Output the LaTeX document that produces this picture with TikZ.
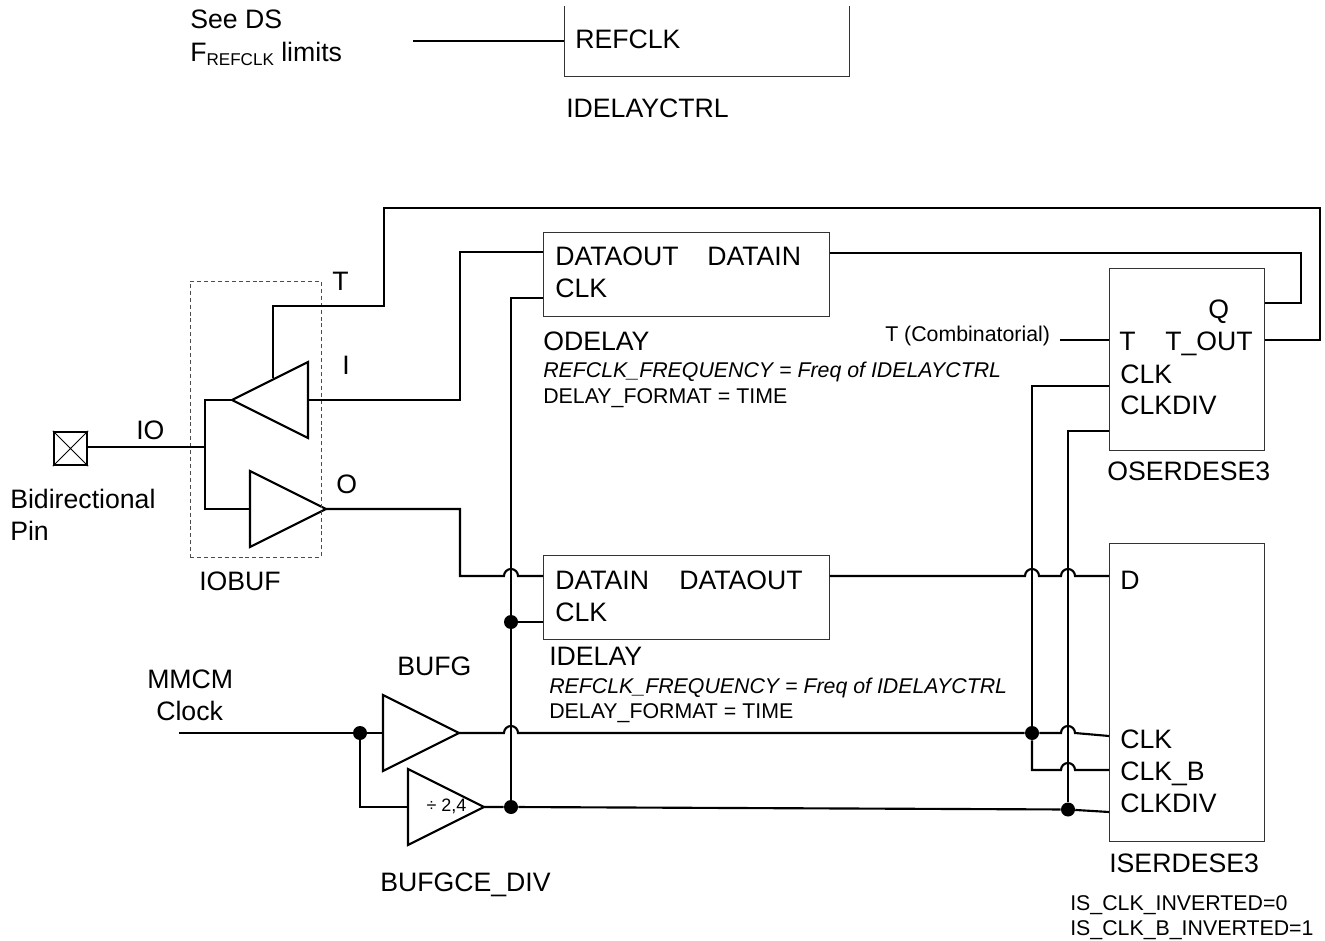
\documentclass[tikz,border=0pt]{standalone}
\usepackage{fontspec}
\setmainfont{Liberation Sans}
\usetikzlibrary{calc,shapes.geometric}

\newcommand{\hop}[1]{-- ($(#1)+(-7,0)$) arc[start angle=180,end angle=0,radius=5.25pt]}

\begin{document}
\begin{tikzpicture}[x=0.75pt,y=-0.75pt,
		wire/.style={line width=1.6pt},
		thinbox/.style={draw=black!80,line width=0.7pt,rectangle,inner sep=0pt},
		tribuf/.style={draw,isosceles triangle,isosceles triangle stretches,inner sep=0pt,outer sep=0pt,
			minimum width=57pt,minimum height=57pt,line width=1.6pt},
		lbl/.style={anchor=base west,inner sep=0pt,font=\fontsize{20}{22}\selectfont},
		sml/.style={anchor=base west,inner sep=0pt,font=\fontsize{16}{18}\selectfont},
		dot/.style={circle,fill=black,inner sep=0pt,minimum size=10.5pt}]
	\useasboundingbox (0,0) rectangle (1325,941);

	% blocks
	\node[thinbox,minimum width=214.5pt,minimum height=63pt] (odelay) at (686.5,274) {};
	\node[thinbox,minimum width=214.5pt,minimum height=63pt] (idelay) at (686.5,597) {};
	\node[thinbox,minimum width=116.5pt,minimum height=136.5pt] (oserdes) at (1187,359) {};
	\node[thinbox,minimum width=116.5pt,minimum height=224pt] (iserdes) at (1187,692.5) {};
	\coordinate (ctrltl) at (564,6);
	\coordinate (ctrlbl) at (564,76);
	\coordinate (ctrlbr) at (849,76);
	\coordinate (ctrltr) at (849,6);
	\draw[draw=black!80,line width=0.7pt] (ctrltl) -- (ctrlbl) -- (ctrlbr) -- (ctrltr);

	% buffers
	\node[tribuf,shape border rotate=180,anchor=apex] (tribufi) at (232,400) {};
	\node[tribuf,anchor=apex] (tribufo) at (326,509) {};
	\node[tribuf,anchor=apex] (bufg) at (459,733) {};
	\node[tribuf,anchor=apex] (bufdiv) at (484,807) {};
	\node[inner sep=0pt,font=\fontsize{13.5}{15}\selectfont] (bufdivtxt) at (446.5,806) {÷ 2,4};
	\node[draw,rectangle,inner sep=0pt,minimum size=25pt,line width=1.6pt] (pin) at (70.5,448.5) {};
	\draw[line width=0.6pt] (pin.north west) -- (pin.south east) (pin.north east) -- (pin.south west);
	\node[draw=black!70,dashed,dash pattern=on 3pt off 2.2pt,line width=0.7pt,rectangle,inner sep=0pt,
		minimum width=98.25pt,minimum height=207pt] (iobuf) at (255.5,419) {};

	% named points
	\coordinate (refin) at (413,41);
	\coordinate (refend) at (564,41);
	\coordinate (iojoin) at (205,447);
	\coordinate (ttap) at (273,378);
	\coordinate (tcorner) at (273,306);
	\coordinate (tstep) at (384,306);
	\coordinate (tup) at (384,208);
	\coordinate (tright) at (1320,208);
	\coordinate (tdown) at (1320,340);
	\coordinate (toutp) at (oserdes.east |- tdown);
	\coordinate (ibend) at (460,400);
	\coordinate (ibendup) at (460,252);
	\coordinate (odelayout) at (odelay.west |- ibendup);
	\coordinate (obend) at (460,509);
	\coordinate (obenddn) at (460,576);
	\coordinate (idelayin) at (idelay.west |- obenddn);
	\coordinate (odelayclk) at (511,298);
	\coordinate (odelayclkp) at (odelay.west |- odelayclk);
	\coordinate (qright) at (1301,253);
	\coordinate (qdown) at (1301,303);
	\coordinate (qp) at (oserdes.east |- qdown);
	\coordinate (datainp) at (odelay.east |- qright);
	\coordinate (combin) at (1060,340);
	\coordinate (combp) at (oserdes.west |- combin);
	\coordinate (osclk) at (1032,386);
	\coordinate (osclkp) at (oserdes.west |- osclk);
	\coordinate (osdiv) at (1068,431);
	\coordinate (osdivp) at (oserdes.west |- osdiv);
	\coordinate (idatap) at (idelay.east |- obenddn);
	\coordinate (isdp) at (iserdes.west |- obenddn);
	\coordinate (clkin) at (179,733);
	\coordinate (isclkp) at (1109,736);
	\coordinate (isclkbp) at (1109,770);
	\coordinate (isdivp) at (1109,812);
	\coordinate (clkbbend) at (1032,770);

	% junctions
	\node[dot] (jclk) at (360,733) {};
	\node[dot] (jidelay) at (511,622) {};
	\node[dot] (jdiv) at (511,807) {};
	\node[dot] (jisclk) at (1032,733) {};
	\node[dot] (jisdiv) at (1068,809.5) {};
	\coordinate (idelayclkp) at (idelay.west |- jidelay);

	% wires
	\draw[wire] (refin) -- (refend);
	\draw[wire] (pin.east |- iojoin) -- (iojoin);
	\draw[wire] (tribufi.apex) -| (iojoin) |- (tribufo.lower side);
	\draw[wire] (ttap) -- (tcorner) -- (tstep) -- (tup) -- (tright) -- (tdown) -- (toutp);
	\draw[wire] (tribufi.lower side) -- (ibend) -- (ibendup) -- (odelayout);
	\draw[wire] (tribufo.apex) -- (obend) -- (obenddn) \hop{jidelay |- obenddn} -- (idelayin);
	\draw[wire] (odelayclkp) -- (odelayclk) -- (jidelay);
	\draw[wire] (jidelay) -- (idelayclkp);
	\draw[wire] (jidelay) -- (jdiv);
	\draw[wire] (datainp) -- (qright) -- (qdown) -- (qp);
	\draw[line width=1pt] (combin) -- (combp);
	\draw[wire] (osclkp) -- (osclk) -- (jisclk);
	\draw[wire] (osdivp) -- (osdiv) -- (jisdiv);
	\draw[wire] (idatap) \hop{osclk |- obenddn} \hop{osdiv |- obenddn} -- (isdp);
	\draw[wire] (clkin) -- (bufg.lower side);
	\draw[wire] (jclk) |- (bufdiv.lower side);
	\draw[wire] (bufg.apex) \hop{jidelay |- bufg.apex} -- (jisclk);
	\draw[wire] (jisclk) \hop{osdiv |- jisclk} -- (isclkp);
	\draw[wire] (jisclk) -- (clkbbend) \hop{osdiv |- clkbbend} -- (isclkbp);
	\draw[wire] (bufdiv.apex) -- (jdiv) -- (jisdiv) -- (isdivp);

	% labels
	\node[lbl] (seeds) at (190,29) {See DS};
	\node[lbl] (limits) at (190,62) {F\raisebox{-3pt}{\fontsize{12.8}{14}\selectfont REFCLK} limits};
	\node[lbl] (refclk) at (575,49) {REFCLK};
	\node[lbl] (ctrlname) at (566,118) {IDELAYCTRL};
	\node[lbl] (odout) at (555,266) {DATAOUT};
	\node[lbl] (odin) at (707,266) {DATAIN};
	\node[lbl] (odclk) at (555,298) {CLK};
	\node[lbl] (odname) at (543,351) {ODELAY};
	\node[sml,font=\fontsize{16}{18}\selectfont\itshape] (odfreq) at (543,378) {REFCLK\_FREQUENCY = Freq of IDELAYCTRL};
	\node[sml] (odfmt) at (543,403) {DELAY\_FORMAT = TIME};
	\node[lbl] (idin) at (555,589) {DATAIN};
	\node[lbl] (idout) at (679,589) {DATAOUT};
	\node[lbl] (idclk) at (555,621) {CLK};
	\node[lbl] (idname) at (549,665) {IDELAY};
	\node[sml,font=\fontsize{16}{18}\selectfont\itshape] (idfreq) at (549,693) {REFCLK\_FREQUENCY = Freq of IDELAYCTRL};
	\node[sml] (idfmt) at (549,718) {DELAY\_FORMAT = TIME};
	\node[lbl] (osq) at (1208,319) {Q};
	\node[lbl] (ost) at (1119,351) {T};
	\node[lbl] (ostout) at (1165,351) {T\_OUT};
	\node[lbl] (osclktxt) at (1120,383) {CLK};
	\node[lbl] (osdivtxt) at (1120,415) {CLKDIV};
	\node[lbl] (osname) at (1107,480) {OSERDESE3};
	\node[sml] (combtxt) at (885,342) {T (Combinatorial)};
	\node[lbl] (isd) at (1120,589) {D};
	\node[lbl] (isclktxt) at (1120,748) {CLK};
	\node[lbl] (isclkbtxt) at (1120,780) {CLK\_B};
	\node[lbl] (isdivtxt) at (1120,812) {CLKDIV};
	\node[lbl] (isname) at (1109,872) {ISERDESE3};
	\node[sml] (isinv) at (1070,910) {IS\_CLK\_INVERTED=0};
	\node[sml] (isbinv) at (1070,935) {IS\_CLK\_B\_INVERTED=1};
	\node[lbl] (bufgname) at (397,675) {BUFG};
	\node[lbl] (mmcm) at (147,688) {MMCM};
	\node[lbl] (clockname) at (156,720) {Clock};
	\node[lbl] (divname) at (380,891) {BUFGCE\_DIV};
	\node[lbl] (iobufname) at (199,590) {IOBUF};
	\node[lbl] (iotxt) at (136,439) {IO};
	\node[lbl] (ttxt) at (332,291) {T};
	\node[lbl] (itxt) at (342,374) {I};
	\node[lbl] (otxt) at (336,493) {O};
	\node[lbl] (bidi) at (10,508) {Bidirectional};
	\node[lbl] (pintxt) at (10,540) {Pin};
\end{tikzpicture}
\end{document}
